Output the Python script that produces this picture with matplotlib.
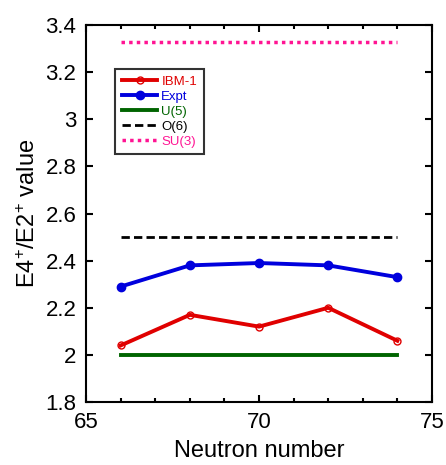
import matplotlib
matplotlib.use("Agg")
import matplotlib.pyplot as plt
from matplotlib.ticker import MultipleLocator

plt.rcParams['font.family'] = ['Liberation Sans', 'DejaVu Sans']
plt.rcParams['mathtext.fontset'] = 'custom'
plt.rcParams['mathtext.rm'] = 'Liberation Sans'
plt.rcParams['mathtext.it'] = 'Liberation Sans:italic'
plt.rcParams['mathtext.bf'] = 'Liberation Sans:bold'

neutrons = [66, 68, 70, 72, 74]
ibm1 = [2.04, 2.17, 2.12, 2.20, 2.06]
expt = [2.29, 2.38, 2.39, 2.38, 2.33]
u5 = [2.0] * 5
o6 = [2.5] * 5
su3 = [3.33] * 5

fig = plt.figure(figsize=(4.46, 4.65), dpi=100)
ax = fig.add_axes([0.193, 0.1355, 0.7756, 0.8105])

ax.plot(neutrons, ibm1, color='#e00000', lw=2.8, marker='o', ms=5, mfc='none', mec='#e00000', mew=1, label='IBM-1')
ax.plot(neutrons, expt, color='#0000dd', lw=2.8, marker='o', ms=6, label='Expt')
ax.plot(neutrons, u5, color='#006400', lw=2.8, label='U(5)')
ax.plot(neutrons, o6, color='black', lw=2, ls=(0, (3, 1.5)), label='O(6)')
ax.plot(neutrons, su3, color='#ff1493', lw=2.5, ls=(0, (1, 1.2)), label='SU(3)')

ax.set_xlim(65, 75)
ax.set_ylim(1.8, 3.4)
ax.xaxis.set_major_locator(MultipleLocator(5))
ax.xaxis.set_minor_locator(MultipleLocator(1))
ax.set_yticks([1.8, 2.0, 2.2, 2.4, 2.6, 2.8, 3.0, 3.2, 3.4])
ax.set_yticklabels(['1.8', '2', '2.2', '2.4', '2.6', '2.8', '3', '3.2', '3.4'])
ax.tick_params(which='both', direction='in', top=True, right=True, labelsize=16, width=1.5, pad=7)
ax.tick_params(which='major', length=5)
ax.tick_params(which='minor', length=3)
for s in ax.spines.values():
    s.set_linewidth(1.5)

ax.set_xlabel('Neutron number', fontsize=17, labelpad=5)
ax.set_ylabel('E4$^{+}$/E2$^{+}$ value', fontsize=17, labelpad=4)

leg = ax.legend(loc='upper left', bbox_to_anchor=(0.084, 0.883), fontsize=9.5, frameon=True,
                fancybox=False, edgecolor='black', handlelength=2.7, handletextpad=0.3,
                borderpad=0.5, labelspacing=0.2, borderaxespad=0)
leg.get_frame().set_linewidth(1.5)
for text, c in zip(leg.get_texts(), ['#e00000', '#0000dd', '#006400', 'black', '#ff1493']):
    text.set_color(c)

fig.savefig('out.png', dpi=100)
